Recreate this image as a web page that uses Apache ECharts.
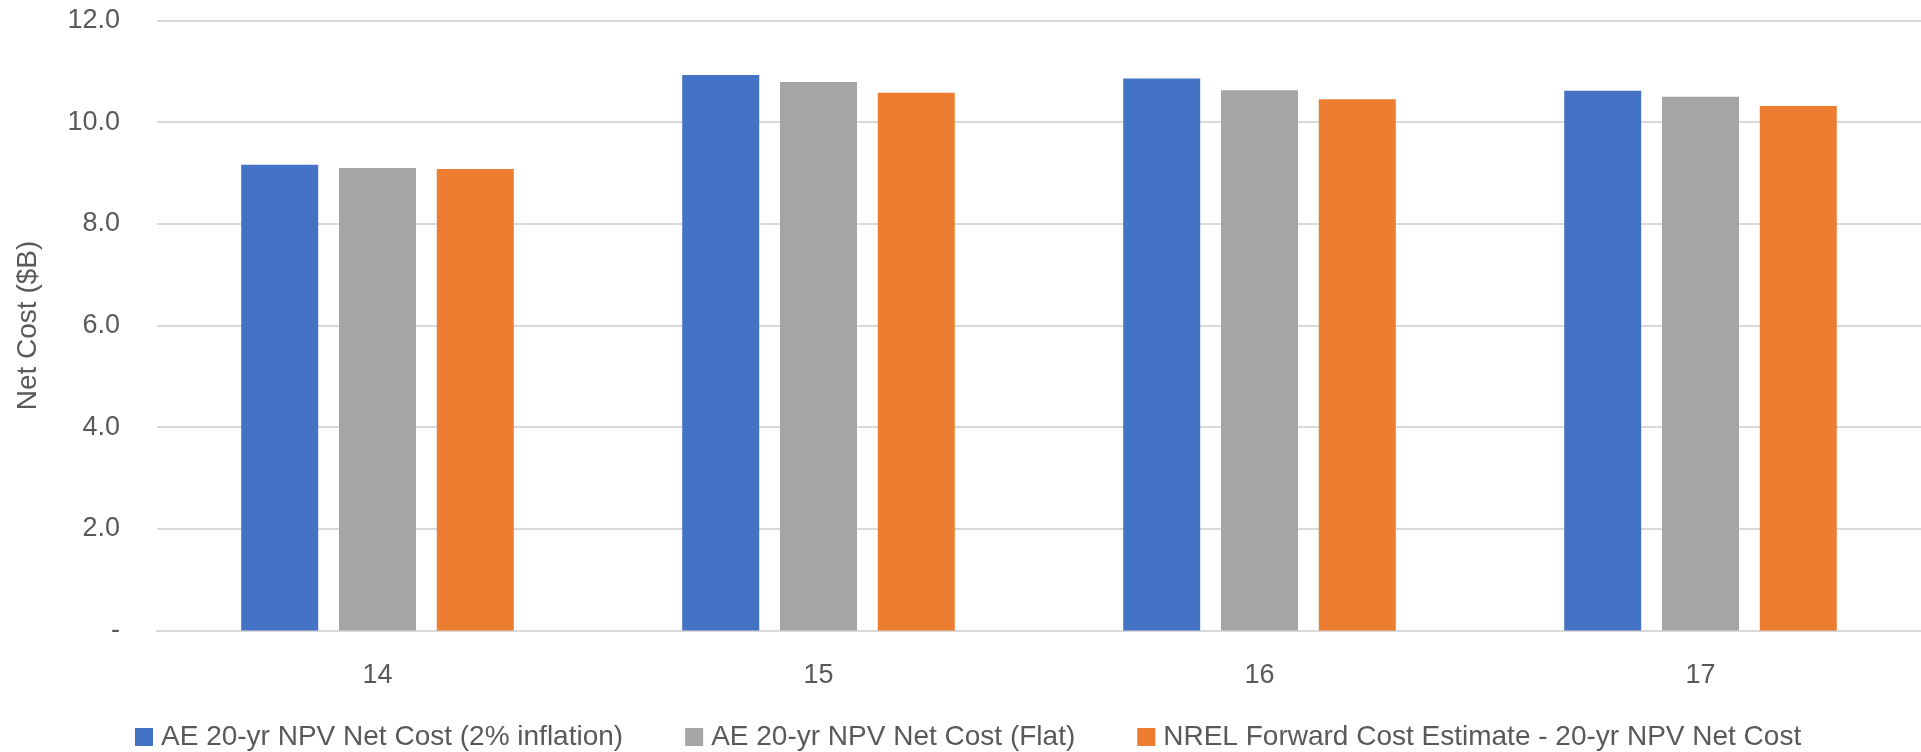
<!DOCTYPE html>
<html>
<head>
<meta charset="utf-8">
<script src="https://cdn.jsdelivr.net/npm/echarts@6/dist/echarts.min.js"></script>
<style>
html,body{margin:0;padding:0;background:#fff;}
#chart{width:1921px;height:752px;}
</style>
</head>
<body>
<div id="chart"></div>
<script>
const categories = ['14', '15', '16', '17'];
const seriesNames = [
  'AE 20-yr NPV Net Cost (2% inflation)',
  'AE 20-yr NPV Net Cost (Flat)',
  'NREL Forward Cost Estimate - 20-yr NPV Net Cost'
];
const aeInflation = [9.16, 10.93, 10.86, 10.62];
const aeFlat = [9.10, 10.79, 10.63, 10.50];
const nrelForward = [9.08, 10.58, 10.45, 10.32];
const colors = ['#4472C4', '#A5A5A5', '#ED7D31'];
const yTicks = { min: 0, max: 12, interval: 2 };

const chart = echarts.init(document.getElementById('chart'), null, { renderer: 'canvas' });
const font = "'Liberation Sans', Arial, sans-serif";
const values = [aeInflation, aeFlat, nrelForward];

chart.setOption({
  animation: false,
  color: colors,
  textStyle: { fontFamily: font },
  grid: { left: 157, right: -11, top: 20.5, height: 610, containLabel: false },
  legend: {
    data: seriesNames,
    left: 135,
    top: 723,
    padding: 0,
    itemWidth: 18,
    itemHeight: 18,
    itemGap: 62,
    icon: 'rect',
    textStyle: { fontSize: 28, color: '#595959', fontFamily: font, padding: [0, 0, 0, 3] }
  },
  xAxis: {
    type: 'category',
    data: categories,
    axisLine: { lineStyle: { color: '#d9d9d9', width: 2 } },
    axisTick: { show: false },
    axisLabel: { fontSize: 27, color: '#595959', margin: 32, fontFamily: font }
  },
  yAxis: {
    type: 'value',
    min: yTicks.min,
    max: yTicks.max,
    interval: yTicks.interval,
    name: 'Net Cost ($B)',
    nameLocation: 'middle',
    nameGap: 115,
    nameRotate: 90,
    nameTextStyle: { fontSize: 28, color: '#595959', fontFamily: font },
    axisLine: { show: false },
    axisTick: { show: false },
    splitLine: { lineStyle: { color: '#d9d9d9', width: 2 } },
    axisLabel: {
      fontSize: 27, color: '#595959', margin: 37, fontFamily: font,
      formatter: v => v === 0 ? '-' : v.toFixed(1)
    }
  },
  series: seriesNames.map((n, i) => ({
    name: n,
    type: 'bar',
    data: values[i],
    barWidth: 77,
    barGap: '27%',
    itemStyle: { color: colors[i] }
  }))
});
</script>
</body>
</html>
